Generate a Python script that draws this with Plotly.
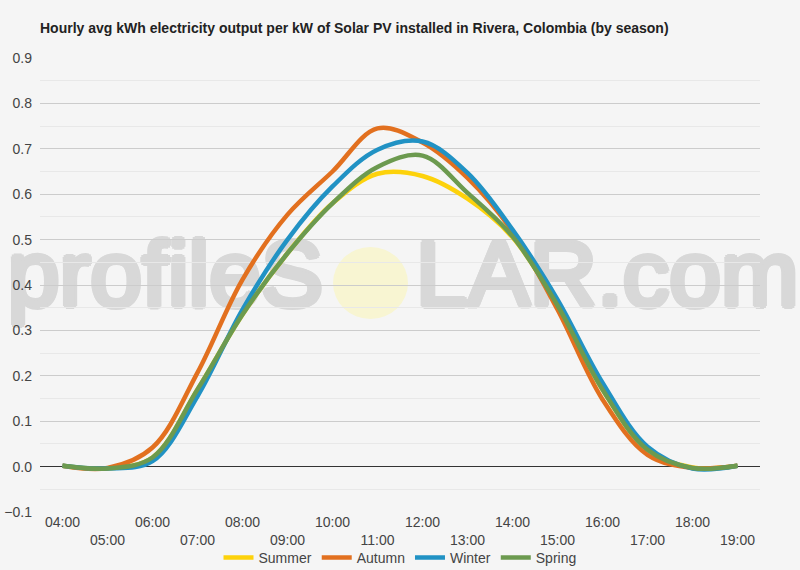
import plotly.graph_objects as go

hours = ["04:00", "05:00", "06:00", "07:00", "08:00", "09:00", "10:00", "11:00",
         "12:00", "13:00", "14:00", "15:00", "16:00", "17:00", "18:00", "19:00"]
summer = [0.002, -0.004, 0.02, 0.17, 0.335, 0.47, 0.58, 0.645, 0.64, 0.59, 0.505, 0.355, 0.17, 0.037, -0.002, 0.002]
autumn = [0.002, -0.003, 0.042, 0.207, 0.412, 0.555, 0.65, 0.745, 0.714, 0.636, 0.518, 0.346, 0.148, 0.026, -0.003, 0.002]
winter = [0.002, -0.004, 0.012, 0.155, 0.346, 0.5, 0.617, 0.698, 0.716, 0.647, 0.522, 0.368, 0.185, 0.044, -0.004, 0.002]
spring = [0.002, -0.004, 0.02, 0.17, 0.335, 0.47, 0.58, 0.66, 0.685, 0.603, 0.507, 0.355, 0.17, 0.037, -0.003, 0.002]

series = [("Summer", summer, "#fdd20b"), ("Autumn", autumn, "#e2701f"),
          ("Winter", winter, "#2192c4"), ("Spring", spring, "#6c9a4f")]

tick_text = [h if i % 2 == 0 else "<br>" + h for i, h in enumerate(hours)]

fig = go.Figure()
for name, vals, col in series:
    fig.add_trace(go.Scatter(x=list(range(len(hours))), y=vals, name=name, mode="lines",
                             line=dict(color=col, width=4.5, shape="spline", smoothing=1.0)))

W, H = 800, 570
L, R, T, B = 40, 760, 58, 512

def px(x):
    return (x - L) / (R - L)

def py(y):
    return (B - y) / (B - T)

wm_col = "#d8d8d8"
offs = [(3, 0), (-3, 0), (0, 3), (0, -3), (2, 2), (-2, 2), (2, -2), (-2, -2)]
wm_font = dict(family="Liberation Sans, Arial, sans-serif", size=93, color=wm_col,
               shadow=", ".join("%dpx %dpx 0 %s" % (a, b, wm_col) for a, b in offs))
shapes = [
    dict(type="circle", xref="paper", yref="paper", x0=px(333), x1=px(408), y0=py(319), y1=py(247),
         fillcolor="#f8f5d2", line=dict(width=0), layer="below"),
    dict(type="rect", xref="paper", yref="paper", x0=px(2), x1=px(326), y0=py(305), y1=py(225),
         fillcolor="rgba(0,0,0,0)", line=dict(width=0), layer="below",
         label=dict(text="profileS", textposition="middle right", font=wm_font, padding=0)),
    dict(type="rect", xref="paper", yref="paper", x0=px(413), x1=px(798), y0=py(305), y1=py(225),
         fillcolor="rgba(0,0,0,0)", line=dict(width=0), layer="below",
         label=dict(text="LAR.com", textposition="middle left", font=wm_font, padding=0)),
]

fig.update_layout(
    width=W, height=H,
    margin=dict(l=L, r=W - R, t=T, b=H - B, autoexpand=False),
    paper_bgcolor="#f5f5f5", plot_bgcolor="#f5f5f5",
    font=dict(family="Liberation Sans, Arial, sans-serif", size=14, color="#444444"),
    title=dict(text="<b>Hourly avg kWh electricity output per kW of Solar PV installed in Rivera, Colombia (by season)</b>",
               x=40 / W, xanchor="left", y=1 - 28 / H, yanchor="middle",
               font=dict(size=14, color="#222222")),
    xaxis=dict(range=[-0.5, len(hours) - 0.5], tickmode="array", tickvals=list(range(len(hours))),
               ticktext=tick_text, showgrid=False, zeroline=False, showline=False, ticks="",
               automargin=False, tickfont=dict(size=14, color="#444444")),
    yaxis=dict(range=[-0.1, 0.9], dtick=0.1, tickformat=".1f", gridcolor="#cccccc", gridwidth=1,
               zeroline=True, zerolinecolor="#333333", zerolinewidth=1, ticks="",
               automargin=False, ticklabelstandoff=7,
               minor=dict(dtick=0.05, showgrid=True, gridcolor="#e8e8e8", gridwidth=1),
               tickfont=dict(size=14, color="#444444")),
    legend=dict(orientation="h", x=0.5, xanchor="center", yref="container", y=1 - 558 / H, yanchor="middle",
                font=dict(size=14, color="#444444"), bgcolor="rgba(0,0,0,0)", itemwidth=30),
    shapes=shapes,
    showlegend=True,
)

fig.write_html("out.html")
